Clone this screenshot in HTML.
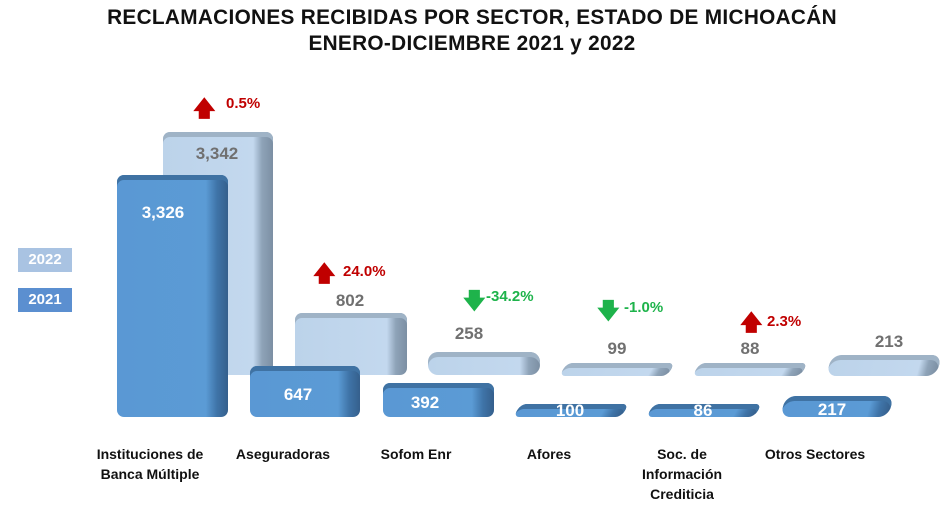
<!DOCTYPE html>
<html><head><meta charset="utf-8"><style>
body{margin:0;width:944px;height:511px;background:#fff;position:relative;overflow:hidden;font-family:"Liberation Sans",sans-serif;font-weight:bold}
.t{position:absolute;left:0;width:944px;text-align:center;font-size:20.8px;color:#111;letter-spacing:.3px}
.b{position:absolute;box-sizing:border-box;border-radius:7px}
.d{background:linear-gradient(to right,#5a98d4 0%,#5b9bd5 80%,#3f74a8 90%,#355f8c 100%);box-shadow:inset 0 5px 0 #3f72a3}
.l{background:linear-gradient(to right,#bcd3ea 0%,#c3d8ee 82%,#8ea3b8 90%,#7c8fa3 100%);box-shadow:inset 0 5px 0 #9fb3c6}
.v{position:absolute;font-size:17px;text-align:center;width:80px}
.w{color:#fff}.g{color:#707070}
.p{position:absolute;font-size:15px}
.r{color:#c00000}.gr{color:#1eb34b}
.c{position:absolute;font-size:14px;color:#111;text-align:center;width:140px;line-height:20px}
.leg{position:absolute;left:18px;width:54px;height:24px;color:#fff;font-size:15px;text-align:center;line-height:24px}
</style></head><body>
<div class="t" style="top:6px">RECLAMACIONES RECIBIDAS POR SECTOR, ESTADO DE MICHOACÁN</div>
<div class="t" style="top:32px">ENERO-DICIEMBRE 2021 y 2022</div>
<div class="leg" style="top:248px;background:#a9c3e2">2022</div>
<div class="leg" style="top:288px;background:#5b8fd0">2021</div>

<div class="b l" style="left:163px;top:132px;width:110px;height:243px"></div>
<div class="b d" style="left:117px;top:175px;width:111px;height:242px"></div>
<div class="v g" style="left:177px;top:144px">3,342</div>
<div class="v w" style="left:123px;top:203px">3,326</div>

<div class="b l" style="left:295px;top:313px;width:112px;height:62px"></div>
<div class="b d" style="left:250px;top:366px;width:110px;height:51px"></div>
<div class="v g" style="left:310px;top:291px">802</div>
<div class="v w" style="left:258px;top:385px">647</div>

<div class="b l" style="left:428px;top:352px;width:112px;height:23px;border-radius:10px"></div>
<div class="b d" style="left:383px;top:383px;width:111px;height:34px"></div>
<div class="v g" style="left:429px;top:324px">258</div>
<div class="v w" style="left:385px;top:393px">392</div>

<div class="b l" style="left:563px;top:363px;width:108px;height:13px;border-radius:6px;transform:skewX(-30deg)"></div>
<div class="b d" style="left:517px;top:404px;width:108px;height:13px;border-radius:6px;transform:skewX(-30deg)"></div>
<div class="v g" style="left:577px;top:339px">99</div>
<div class="v w" style="left:530px;top:401px">100</div>

<div class="b l" style="left:696px;top:363px;width:108px;height:13px;border-radius:6px;transform:skewX(-30deg)"></div>
<div class="b d" style="left:650px;top:404px;width:108px;height:13px;border-radius:6px;transform:skewX(-30deg)"></div>
<div class="v g" style="left:710px;top:339px">88</div>
<div class="v w" style="left:663px;top:401px">86</div>

<div class="b l" style="left:829px;top:355px;width:110px;height:21px;border-radius:10px;transform:skewX(-15deg)"></div>
<div class="b d" style="left:783px;top:396px;width:108px;height:21px;border-radius:10px;transform:skewX(-15deg)"></div>
<div class="v g" style="left:849px;top:332px">213</div>
<div class="v w" style="left:792px;top:400px">217</div>

<div class="p r" style="left:193px;top:92px;font-size:22px">🡅</div>
<div class="p r" style="left:226px;top:95px">0.5%</div>
<div class="p r" style="left:313px;top:257px;font-size:22px">🡅</div>
<div class="p r" style="left:343px;top:263px">24.0%</div>
<div class="p gr" style="left:463px;top:284px;font-size:22px">🡇</div>
<div class="p gr" style="left:486px;top:288px">-34.2%</div>
<div class="p gr" style="left:597px;top:294px;font-size:22px">🡇</div>
<div class="p gr" style="left:624px;top:299px">-1.0%</div>
<div class="p r" style="left:740px;top:306px;font-size:22px">🡅</div>
<div class="p r" style="left:767px;top:313px">2.3%</div>

<div class="c" style="left:80px;top:444px">Instituciones de<br>Banca Múltiple</div>
<div class="c" style="left:213px;top:444px">Aseguradoras</div>
<div class="c" style="left:346px;top:444px">Sofom Enr</div>
<div class="c" style="left:479px;top:444px">Afores</div>
<div class="c" style="left:612px;top:444px">Soc. de<br>Información<br>Crediticia</div>
<div class="c" style="left:745px;top:444px">Otros Sectores</div>
</body></html>
